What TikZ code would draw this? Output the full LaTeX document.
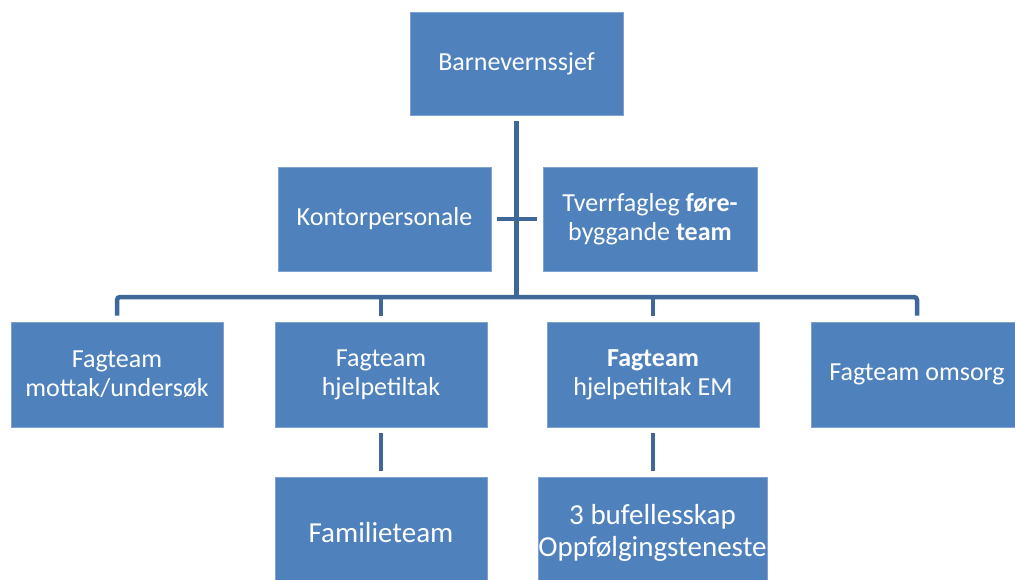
\documentclass[tikz,border=0pt]{standalone}
\usepackage{fontspec}
\setmainfont{Carlito}
\definecolor{boxblue}{HTML}{4F81BD}
\definecolor{boxedge}{HTML}{7FA2D0}
\definecolor{linkblue}{HTML}{3F6898}
\tikzset{
  orgbox/.style={rectangle, fill=boxblue, draw=boxedge, line width=0.8pt, text=white,
    align=center, inner sep=0pt, font=\fontsize{26}{29}\selectfont},
  lowbox/.style={orgbox, font=\fontsize{29}{32}\selectfont},
  link/.style={draw=linkblue, line width=4.5pt},
}
\begin{document}
\begin{tikzpicture}[x=1pt,y=1pt]
\useasboundingbox (0,0) rectangle (1015,-579);
\clip (0,0) rectangle (1015,-579);
\node[orgbox, minimum width=213pt, minimum height=103pt] (chief) at (516.5,-63.5) {Barnevernssjef};
\node[orgbox, minimum width=213pt, minimum height=104pt] (kontor) at (384.5,-219) {Kontorpersonale};
\node[orgbox, minimum width=214pt, minimum height=104pt] (tverr) at (650,-219) {Tverrfagleg \textbf{føre-}\\byggande \textbf{team}};
\node[orgbox, minimum width=212pt, minimum height=105pt] (f1) at (117,-374.5) {Fagteam\\mottak/undersøk};
\node[orgbox, minimum width=212pt, minimum height=105pt] (f2) at (381,-374.5) {Fagteam\\hjelpetiltak};
\node[orgbox, minimum width=212pt, minimum height=105pt] (f3) at (653,-374.5) {\textbf{Fagteam}\\hjelpetiltak EM};
\node[orgbox, minimum width=212pt, minimum height=105pt] (f4) at (917,-374.5) {Fagteam omsorg};
\node[lowbox, minimum width=212pt, minimum height=112pt] (fam) at (381,-533) {Familieteam};
\node[lowbox, minimum width=229pt, minimum height=112pt] (buf) at (652.5,-533) {3 bufellesskap\\Oppfølgingsteneste};
\coordinate (bar) at (516.5,-297);
\draw[link] ([yshift=-6pt]chief.south) -- (chief.south |- bar);
\draw[link, rounded corners=3pt] ([yshift=6pt]f1.north) |- (bar) -| ([yshift=6pt]f4.north);
\draw[link] ([yshift=6pt]f2.north) -- (f2.north |- bar);
\draw[link] ([yshift=6pt]f3.north) -- (f3.north |- bar);
\draw[link] ([xshift=6pt]kontor.east) -- ([xshift=-6pt]tverr.west);
\draw[link] ([yshift=-6pt]f2.south) -- ([yshift=6pt]f2.south |- fam.north);
\draw[link] ([yshift=-6pt]f3.south) -- ([yshift=6pt]f3.south |- buf.north);
\end{tikzpicture}
\end{document}
